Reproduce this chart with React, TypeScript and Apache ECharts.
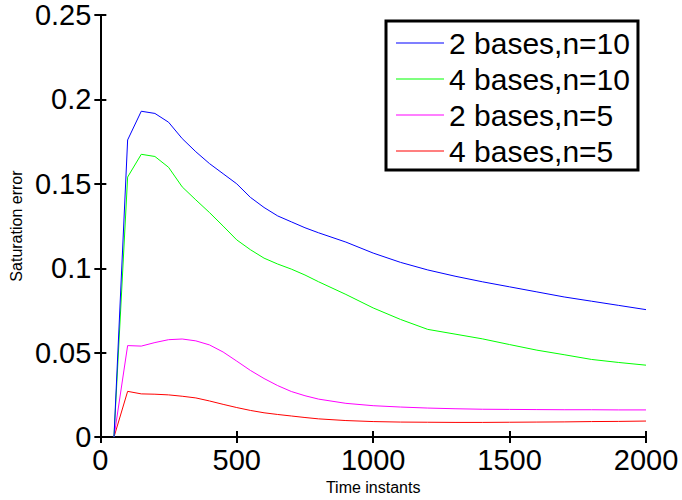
import React, { useEffect, useRef } from "react";
import * as echarts from "echarts";

const times = [50, 100, 150, 200, 250, 300, 350, 400, 450, 500, 550, 600, 650, 700, 750, 800, 900, 1000, 1100, 1200, 1300, 1400, 1500, 1600, 1700, 1800, 1900, 2000];
const blue2n10 = [0, 0.176, 0.193, 0.1917, 0.1865, 0.1768, 0.169, 0.162, 0.156, 0.150, 0.142, 0.136, 0.131, 0.1275, 0.124, 0.121, 0.1155, 0.109, 0.1035, 0.099, 0.0953, 0.092, 0.089, 0.086, 0.083, 0.0805, 0.078, 0.0755];
const green4n10 = [0, 0.154, 0.1675, 0.1662, 0.1598, 0.1482, 0.1405, 0.133, 0.125, 0.1168, 0.111, 0.106, 0.1025, 0.0995, 0.096, 0.092, 0.0845, 0.0765, 0.0697, 0.0638, 0.061, 0.0582, 0.0548, 0.0515, 0.0488, 0.046, 0.0442, 0.0426];
const magenta2n5 = [0, 0.0542, 0.0539, 0.056, 0.0577, 0.0581, 0.057, 0.0546, 0.0504, 0.045, 0.0395, 0.0347, 0.0305, 0.027, 0.0245, 0.0225, 0.02, 0.0186, 0.0178, 0.0172, 0.0168, 0.0165, 0.0164, 0.0163, 0.0162, 0.0162, 0.0161, 0.0161];
const red4n5 = [0, 0.0271, 0.0256, 0.0254, 0.025, 0.0242, 0.0232, 0.0214, 0.0194, 0.0175, 0.0158, 0.0144, 0.0134, 0.0125, 0.0116, 0.0108, 0.0098, 0.0092, 0.0089, 0.0088, 0.0087, 0.0087, 0.0088, 0.0089, 0.009, 0.0092, 0.0093, 0.0095];

const seriesNames = ["2 bases,n=10", "4 bases,n=10", "2 bases,n=5", "4 bases,n=5"];
const seriesColors = ["#0000ff", "#00ff00", "#ff00ff", "#ff0000"];
const seriesValues = [blue2n10, green4n10, magenta2n5, red4n5];

const FONT = "Liberation Sans, Arial, Helvetica, sans-serif";

export default function App() {
  const ref = useRef<HTMLDivElement>(null);
  useEffect(() => {
    if (!ref.current) return;
    const chart = echarts.init(ref.current, undefined, { renderer: "svg" });
    const axisLine = { show: true, lineStyle: { color: "#000", width: 2 } };
    const axisTick = { show: true, inside: true, length: 6, lineStyle: { color: "#000", width: 2 } };
    chart.setOption({
      animation: false,
      backgroundColor: "#fff",
      grid: { left: 100, right: 36, top: 15, bottom: 55, containLabel: false },
      legend: {
        data: seriesNames.map((n, i) => ({
          name: n,
          icon: "rect",
          itemStyle: { color: seriesColors[i], borderWidth: 0, borderColor: seriesColors[i] },
        })),
        orient: "vertical",
        left: 386,
        top: 21,
        padding: [4, 8, 1, 10],
        itemWidth: 48,
        itemHeight: 1,
        itemGap: 0,
        backgroundColor: "#fff",
        borderColor: "#000",
        borderWidth: 3,
        borderRadius: 0,
        textStyle: { fontSize: 30, lineHeight: 36, color: "#000", fontFamily: FONT },
      },
      xAxis: [
        {
          type: "value",
          min: 0,
          max: 2000,
          interval: 500,
          position: "bottom",
          name: "Time instants",
          nameLocation: "middle",
          nameGap: 38,
          nameTextStyle: { fontSize: 16, color: "#000", fontFamily: FONT },
          axisLine,
          axisTick,
          splitLine: { show: false },
          axisLabel: { fontSize: 29, color: "#000", fontFamily: FONT, margin: 8, formatter: (v: number) => String(v) },
        },
        {
          type: "value",
          min: 0,
          max: 2000,
          interval: 500,
          position: "top",
          axisLine,
          axisTick,
          splitLine: { show: false },
          axisLabel: { show: false },
        },
      ],
      yAxis: [
        {
          type: "value",
          min: 0,
          max: 0.25,
          interval: 0.05,
          position: "left",
          name: "Saturation error",
          nameLocation: "middle",
          nameGap: 74,
          nameTextStyle: { fontSize: 16, color: "#000", fontFamily: FONT },
          axisLine,
          axisTick,
          splitLine: { show: false },
          axisLabel: { fontSize: 29, color: "#000", fontFamily: FONT, margin: 9, formatter: (v: number) => String(+v.toFixed(2)) },
        },
        {
          type: "value",
          min: 0,
          max: 0.25,
          interval: 0.05,
          position: "right",
          axisLine,
          axisTick,
          splitLine: { show: false },
          axisLabel: { show: false },
        },
      ],
      series: seriesNames.map((name, i) => ({
        name,
        type: "line",
        xAxisIndex: 0,
        yAxisIndex: 0,
        data: times.map((t, j) => [t, seriesValues[i][j]]),
        symbol: "none",
        showSymbol: false,
        smooth: false,
        lineStyle: { color: seriesColors[i], width: 1 },
        itemStyle: { color: seriesColors[i] },
        z: 4 - i,
      })),
    });
    return () => chart.dispose();
  }, []);
  return <div ref={ref} style={{ position: "fixed", left: 0, top: 0, width: 682, height: 500 }} />;
}
